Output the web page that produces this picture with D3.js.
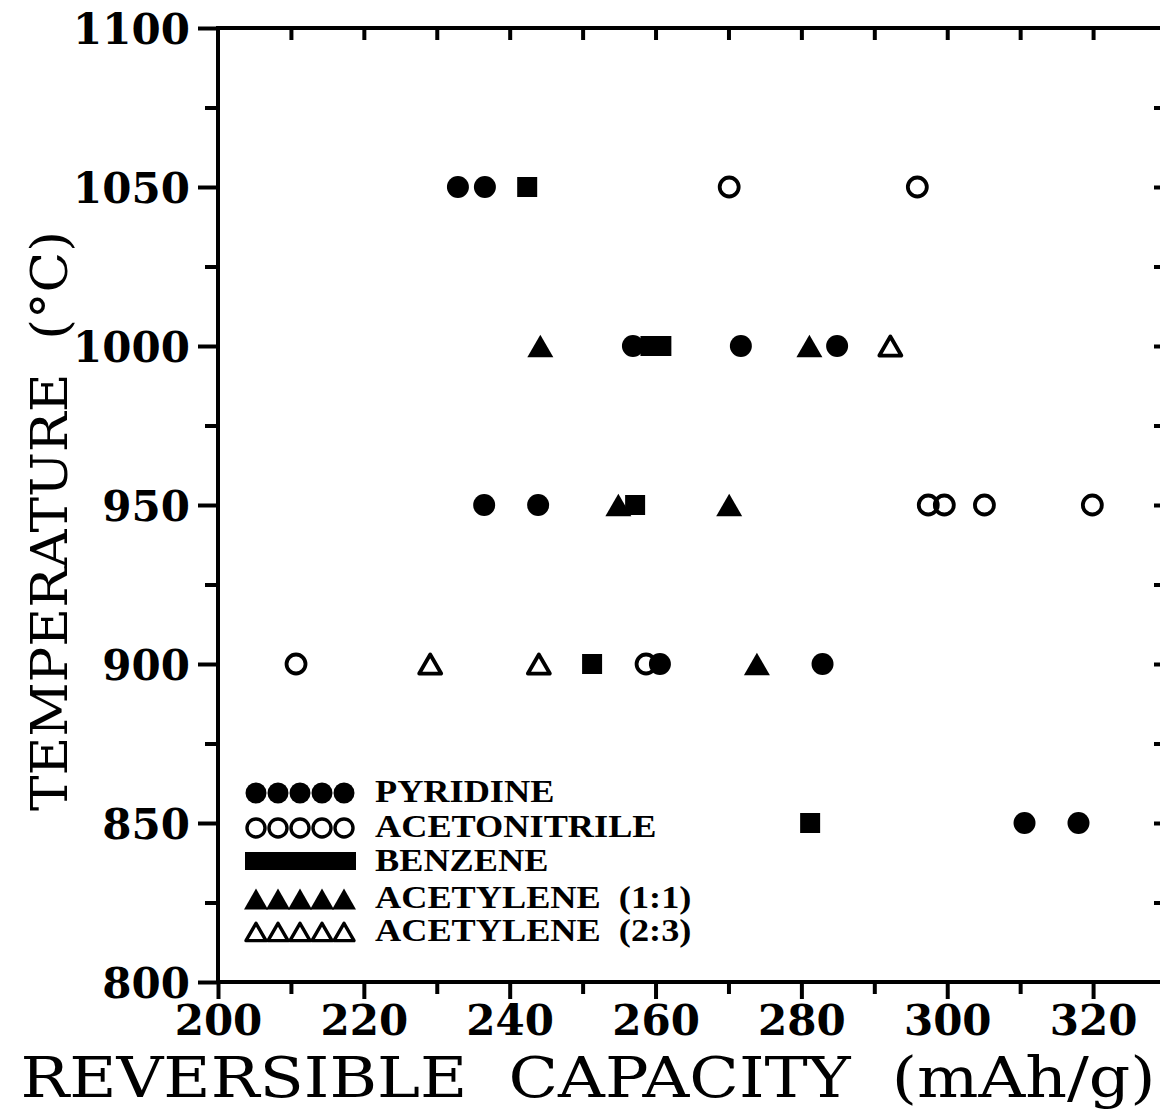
<!DOCTYPE html>
<html><head><meta charset="utf-8">
<script src="https://cdn.jsdelivr.net/npm/d3@7/dist/d3.min.js"></script>
<style>
html,body{margin:0;padding:0;background:#fff;}
svg{display:block;}
text{white-space:pre;}
</style></head>
<body>
<script>
// ---- data ----
const seriesNames = ["PYRIDINE", "ACETONITRILE", "BENZENE", "ACETYLENE  (1:1)", "ACETYLENE  (2:3)"];
const seriesKeys = ["pyridine", "acetonitrile", "benzene", "acetylene11", "acetylene23"];
// [capacity mAh/g, temperature °C]
const pyridine = [[232.9,1050],[236.6,1050],[256.9,1000],[271.7,1000],[284.9,1000],[236.5,950],[243.9,950],[260.6,900],[282.9,900],[310.6,850],[318.0,850]];
const acetonitrile = [[270.1,1050],[295.9,1050],[297.4,950],[299.6,950],[305.1,950],[319.9,950],[210.7,900],[258.7,900]];
const benzene = [[242.4,1050],[259.3,1000],[260.8,1000],[257.2,950],[251.3,900],[281.2,850]];
const acetylene11 = [[244.2,1000],[281.1,1000],[254.9,950],[270.1,950],[273.9,900]];
const acetylene23 = [[292.2,1000],[229.1,900],[244.0,900]];
const xTicksMajor = [200,220,240,260,280,300,320];
const yTicksMajor = [800,850,900,950,1000,1050,1100];
const xTitle = "REVERSIBLE  CAPACITY  (mAh/g)";
const yTitle = "TEMPERATURE  (°C)";

// ---- layout ----
const W = 1160, H = 1115;
const x = d3.scaleLinear().domain([200,330]).range([218,1166]);
const y = d3.scaleLinear().domain([800,1100]).range([982,28]);
const svg = d3.select("body").append("svg").attr("width",W).attr("height",H);

const styleAxis = g => {
  g.select(".domain").remove();
  g.selectAll(".tick line").attr("stroke","#000").attr("stroke-width",4);
};

const xMinor = d3.range(200,331,10).filter(v=>v%20!==0);
const yAll = d3.range(800,1101,25);
const yMinor = yAll.filter(v=>v%50!==0);

// bottom major
svg.append("g").attr("transform",`translate(0,${y(800)})`)
  .call(d3.axisBottom(x).tickValues(xTicksMajor).tickSize(17).tickPadding(6).tickFormat(d3.format("d")))
  .call(styleAxis)
  .call(g=>g.selectAll("text").attr("fill","#000").style("font-family","'DejaVu Serif'").style("font-weight","bold").style("font-size","42px"));
// bottom minor
svg.append("g").attr("transform",`translate(0,${y(800)})`)
  .call(d3.axisBottom(x).tickValues(xMinor).tickSize(12).tickFormat(""))
  .call(styleAxis);
// top ticks (inward)
svg.append("g").attr("transform",`translate(0,${y(1100)})`)
  .call(d3.axisBottom(x).tickValues(d3.range(210,331,10)).tickSize(12).tickFormat(""))
  .call(styleAxis);
// left major
svg.append("g").attr("transform",`translate(${x(200)},0)`)
  .call(d3.axisLeft(y).tickValues(yTicksMajor).tickSize(20).tickPadding(8).tickFormat(d3.format("d")))
  .call(styleAxis)
  .call(g=>g.selectAll("text").attr("fill","#000").attr("dy","0.36em").style("font-family","'DejaVu Serif'").style("font-weight","bold").style("font-size","42px"));
// left minor
svg.append("g").attr("transform",`translate(${x(200)},0)`)
  .call(d3.axisLeft(y).tickValues(yMinor).tickSize(13).tickFormat(""))
  .call(styleAxis);
// right ticks (inward)
svg.append("g").attr("transform",`translate(${x(330)},0)`)
  .call(d3.axisRight(y).tickValues(yAll.filter(v=>v>800&&v<1100)).tickSize(-12).tickFormat(""))
  .call(styleAxis);

// frame
svg.append("rect").attr("x",x(200)).attr("y",y(1100))
  .attr("width",x(330)-x(200)).attr("height",y(800)-y(1100))
  .attr("fill","none").attr("stroke","#000").attr("stroke-width",4);

// titles
svg.append("text").attr("x",588).attr("y",1097).attr("text-anchor","middle")
  .attr("textLength",1135).attr("lengthAdjust","spacingAndGlyphs")
  .style("font-family","'DejaVu Serif'").style("font-size","56px").attr("fill","#000").text(xTitle);
svg.append("text").attr("transform","translate(67,521) rotate(-90)").attr("text-anchor","middle")
  .attr("textLength",580).attr("lengthAdjust","spacingAndGlyphs")
  .style("font-family","'DejaVu Serif'").style("font-size","51px").attr("fill","#000").text(yTitle);

// triangle centred on its bounding box; size = side length
const triBox = {
  draw(ctx, s) {
    const h = s*Math.sqrt(3)/2;
    ctx.moveTo(0,-h/2); ctx.lineTo(s/2,h/2); ctx.lineTo(-s/2,h/2); ctx.closePath();
  }
};

// markers
const sym = {
  pyridine:    {type:d3.symbolCircle, size:Math.PI*11*11, lsize:Math.PI*10.5*10.5, fill:"#000", stroke:"none", sw:0},
  acetonitrile:{type:d3.symbolCircle, size:Math.PI*9.5*9.5, lsize:Math.PI*9*9, fill:"none", stroke:"#000", sw:3.8},
  benzene:     {type:d3.symbolSquare, size:20*20, lsize:20*20, fill:"#000", stroke:"none", sw:0},
  acetylene11: {type:triBox, size:26, lsize:24, fill:"#000", stroke:"none", sw:0},
  acetylene23: {type:triBox, size:22, lsize:20, fill:"none", stroke:"#000", sw:3.8}
};
const dataBy = {pyridine, acetonitrile, benzene, acetylene11, acetylene23};
const drawOrder = ["acetonitrile","acetylene23","benzene","acetylene11","pyridine"];
drawOrder.forEach(k=>{
  const s = sym[k];
  svg.append("g").selectAll("path").data(dataBy[k]).join("path")
    .attr("d", d3.symbol().type(s.type).size(s.size))
    .attr("transform", d=>`translate(${x(d[0])},${y(d[1])})`)
    .attr("fill", s.fill).attr("stroke", s.stroke).attr("stroke-width", s.sw)
    .attr("stroke-linejoin","round");
});

// legend
const legendY = [792, 827, 861, 898, 931];
const lg = svg.append("g");
seriesKeys.forEach((k,i)=>{
  const s = sym[k];
  const cy = legendY[i];
  if (k==="benzene") {
    lg.append("rect").attr("x",245).attr("y",cy-9).attr("width",111).attr("height",18).attr("fill","#000");
  } else {
    lg.selectAll(null).data(d3.range(5)).join("path")
      .attr("d", d3.symbol().type(s.type).size(s.lsize))
      .attr("transform", j=>`translate(${256+j*22},${cy+1})`)
      .attr("fill", s.fill).attr("stroke", s.stroke).attr("stroke-width", s.sw===0?0:3.4)
      .attr("stroke-linejoin","round");
  }
  const t = lg.append("text").attr("x",375).attr("y",cy+10)
    .style("font-family","'Liberation Serif'").style("font-weight","bold").style("font-size","31px")
    .attr("fill","#000").text(seriesNames[i]);
  const natural = t.node().getComputedTextLength();
  t.attr("textLength", natural*1.17).attr("lengthAdjust","spacingAndGlyphs");
});
</script>
</body></html>
